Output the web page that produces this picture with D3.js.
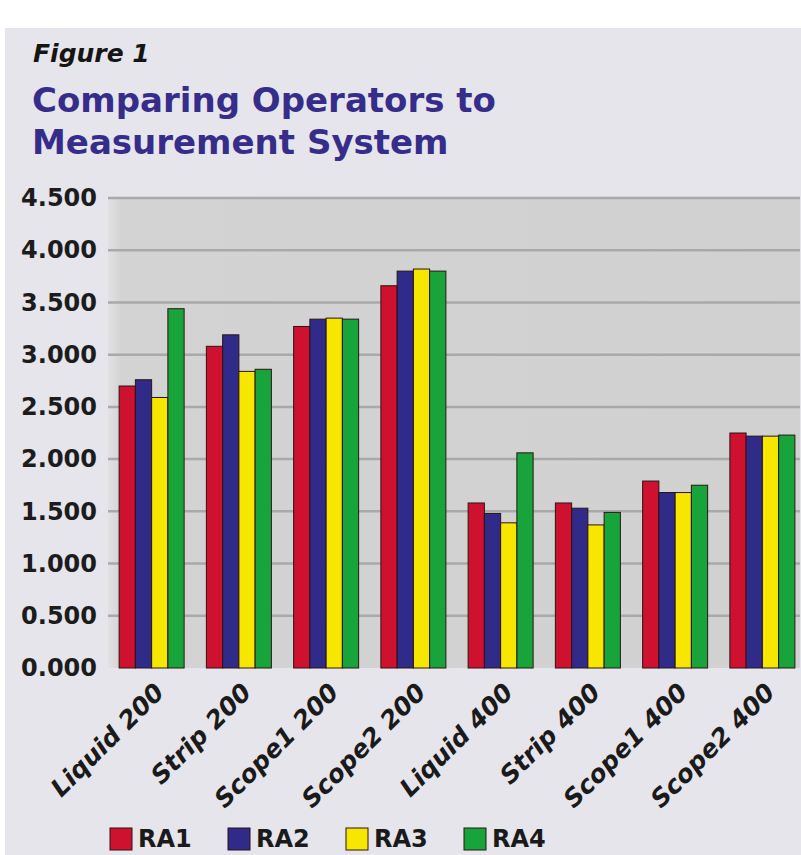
<!DOCTYPE html>
<html>
<head>
<meta charset="utf-8">
<script src="https://cdn.jsdelivr.net/npm/d3@7"></script>
<style>
    body { margin: 0; background: #ffffff; }
    svg { display: block; }
</style>
</head>
<body>
<div id="chart"></div>
<script>
// data
var categories = ["Liquid 200", "Strip 200", "Scope1 200", "Scope2 200",
                  "Liquid 400", "Strip 400", "Scope1 400", "Scope2 400"];
var seriesNames = ["RA1", "RA2", "RA3", "RA4"];
var ra1 = [2.70, 3.08, 3.27, 3.66, 1.58, 1.58, 1.79, 2.25];
var ra2 = [2.76, 3.19, 3.34, 3.80, 1.48, 1.53, 1.68, 2.22];
var ra3 = [2.59, 2.84, 3.35, 3.82, 1.39, 1.37, 1.68, 2.22];
var ra4 = [3.44, 2.86, 3.34, 3.80, 2.06, 1.49, 1.75, 2.23];
var yTicks = [0, 0.5, 1, 1.5, 2, 2.5, 3, 3.5, 4, 4.5];
var colors = ["#cf1130", "#302a88", "#f6e600", "#19a33b"];

var series = [ra1, ra2, ra3, ra4];

var width = 801, height = 855;
var plot = { left: 108, right: 800, top: 198, bottom: 668 };

var svg = d3.select("#chart").append("svg")
    .attr("width", width)
    .attr("height", height);

// panel background
svg.append("rect")
    .attr("x", 5).attr("y", 28)
    .attr("width", width - 5).attr("height", height - 28)
    .attr("fill", "#e6e5ec");

var defs = svg.append("defs");
var grad = defs.append("linearGradient").attr("id", "plotbg")
    .attr("x1", 0).attr("x2", 1).attr("y1", 0).attr("y2", 0);
grad.append("stop").attr("offset", "0%").attr("stop-color", "#e2e2e2");
grad.append("stop").attr("offset", "2%").attr("stop-color", "#d3d3d3");
grad.append("stop").attr("offset", "100%").attr("stop-color", "#d1d1d1");

svg.append("rect")
    .attr("x", plot.left).attr("y", plot.top)
    .attr("width", plot.right - plot.left).attr("height", plot.bottom - plot.top)
    .attr("fill", "url(#plotbg)");

// titles
svg.append("text")
    .attr("x", 33).attr("y", 62)
    .attr("font-family", "DejaVu Sans").attr("font-weight", "bold")
    .attr("font-style", "italic").attr("font-size", 25)
    .attr("fill", "#151515")
    .text("Figure 1");

svg.append("text")
    .attr("x", 32).attr("y", 112)
    .attr("font-family", "DejaVu Sans").attr("font-weight", "bold")
    .attr("font-size", 34).attr("fill", "#362d8a")
    .text("Comparing Operators to");

svg.append("text")
    .attr("x", 32).attr("y", 154)
    .attr("font-family", "DejaVu Sans").attr("font-weight", "bold")
    .attr("font-size", 34).attr("fill", "#362d8a")
    .text("Measurement System");

// scales
var x0 = d3.scaleBand()
    .domain(categories)
    .range([plot.left, 806])
    .paddingInner(0.255)
    .paddingOuter(0.1275);

var x1 = d3.scaleBand()
    .domain(d3.range(seriesNames.length))
    .range([0, x0.bandwidth()]);

var y = d3.scaleLinear()
    .domain([0, 4.5])
    .range([plot.bottom, plot.top]);

// gridlines
svg.append("g")
    .selectAll("line")
    .data(yTicks.filter(function (d) { return d > 0; }))
    .enter()
    .append("line")
    .attr("x1", plot.left)
    .attr("x2", plot.right)
    .attr("y1", function (d) { return y(d); })
    .attr("y2", function (d) { return y(d); })
    .attr("stroke", "#a9a9a9")
    .attr("stroke-width", 2.5);

// y axis labels
var yAxis = d3.axisLeft(y)
    .tickValues(yTicks)
    .tickFormat(d3.format(".3f"))
    .tickSize(0)
    .tickPadding(11);

var yg = svg.append("g")
    .attr("transform", "translate(" + plot.left + ",0)")
    .call(yAxis);
yg.select(".domain").remove();
yg.selectAll("text")
    .attr("font-family", "DejaVu Sans")
    .attr("font-weight", "bold")
    .attr("font-size", 24)
    .attr("fill", "#1c1c1c");

// bars
var groups = svg.append("g")
    .selectAll("g")
    .data(categories)
    .enter()
    .append("g")
    .attr("transform", function (d) { return "translate(" + x0(d) + ",0)"; });

groups.selectAll("rect")
    .data(function (d, i) {
        return series.map(function (s, k) { return { k: k, value: s[i] }; });
    })
    .enter()
    .append("rect")
    .attr("x", function (d) { return x1(d.k); })
    .attr("width", x1.bandwidth())
    .attr("y", function (d) { return y(d.value); })
    .attr("height", function (d) { return y(0) - y(d.value); })
    .attr("fill", function (d) { return colors[d.k]; })
    .attr("stroke", "#2a1515")
    .attr("stroke-width", 1);

// x labels, rotated
svg.append("g")
    .selectAll("text")
    .data(categories)
    .enter()
    .append("text")
    .attr("transform", function (d) {
        var cx = x0(d) + x0.bandwidth() / 2 + 14;
        return "translate(" + cx + ",694) rotate(-45)";
    })
    .attr("text-anchor", "end")
    .attr("font-family", "DejaVu Sans")
    .attr("font-weight", "bold")
    .attr("font-style", "italic")
    .attr("font-size", 25)
    .attr("fill", "#1a1a1a")
    .text(function (d) { return d; });

// legend, pushed against the bottom edge
var legend = svg.append("g")
    .selectAll("g")
    .data(seriesNames)
    .enter()
    .append("g")
    .attr("transform", function (d, i) { return "translate(" + (110 + i * 118) + ",828)"; });

legend.append("rect")
    .attr("width", 22).attr("height", 22)
    .attr("fill", function (d, i) { return colors[i]; })
    .attr("stroke", "#2a1515");

legend.append("text")
    .attr("x", 28).attr("y", 19)
    .attr("font-family", "DejaVu Sans")
    .attr("font-weight", "bold")
    .attr("font-size", 24)
    .attr("fill", "#1a1a1a")
    .text(function (d) { return d; });
</script>
</body>
</html>
